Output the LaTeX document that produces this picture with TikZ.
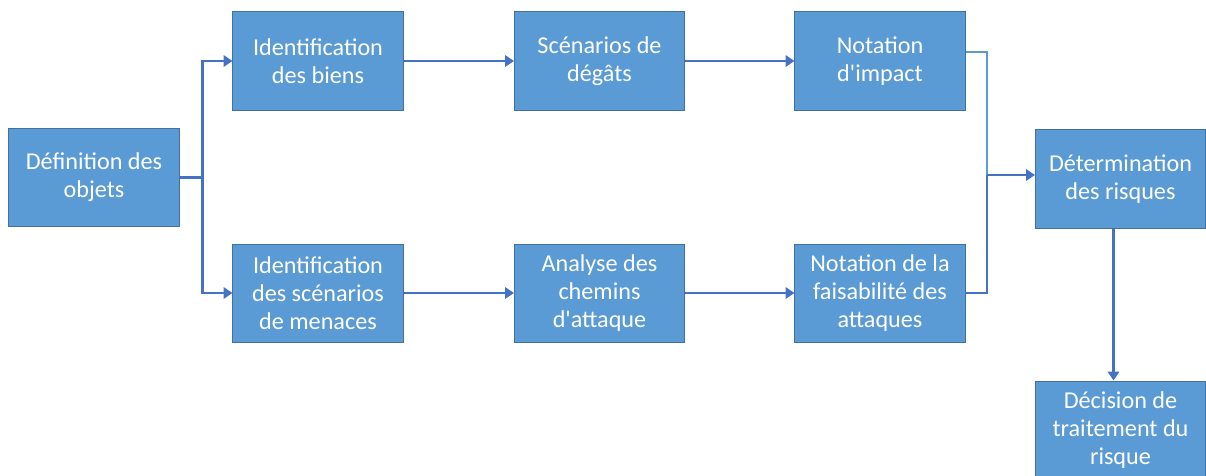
\documentclass[tikz,border=0pt]{standalone}
\usepackage{fontspec}
\setmainfont{Carlito}[Ligatures=TeXOff]
\usetikzlibrary{arrows.meta,calc}
\definecolor{boxfill}{HTML}{5B9BD5}
\definecolor{boxline}{HTML}{41719C}
\definecolor{arrowcol}{HTML}{4472C4}
\definecolor{lightline}{HTML}{5B9BD5}
\begin{document}
\begin{tikzpicture}[x=0.025cm,y=-0.025cm,
  box/.style={rectangle,draw=boxline,line width=0.7pt,fill=boxfill,text=white,
    minimum width=4.25cm,minimum height=2.45cm,inner sep=0pt,align=center,
    font=\fontsize{17.2}{20}\selectfont},
  conn/.style={draw=arrowcol,line width=2.1pt},
  arr/.style={conn,-{Triangle[length=0.22cm,width=0.28cm]}}]
\useasboundingbox (0,0) rectangle (1206,475);
\node[box] (def) at (94,177.5) {Définition des\\objets};
\node[box] (ib) at (318,61) {Identification\\des biens};
\node[box] (sd) at (599.5,61) {Scénarios de\\dégâts};
\node[box] (ni) at (880,61) {Notation\\d'impact};
\node[box] (is) at (318,293) {Identification\\des scénarios\\de menaces};
\node[box] (ac) at (599.5,293) {Analyse des\\chemins\\d'attaque};
\node[box] (nf) at (880,293) {Notation de la\\faisabilité des\\attaques};
\node[box] (dr) at (1120.5,179) {Détermination\\des risques};
\node[box] (dt) at (1120.5,430) {Décision de\\traitement du\\risque};
\coordinate (j) at (987,175);
\draw[arr] (def.east) -- ++(23,0) |- (ib.west);
\draw[arr] (def.east) -- ++(23,0) |- (is.west);
\draw[arr] (ib) -- (sd);
\draw[arr] (sd) -- (ni);
\draw[arr] (is) -- (ac);
\draw[arr] (ac) -- (nf);
\draw[draw=lightline,line width=2.1pt] ($(ni.east)+(0,-9)$) -| (j);
\draw[conn] (nf.east) -| (j);
\draw[arr] (j) -- ($(dr.west)+(0,-4)$);
\draw[arr] ($(dr.south)+(-7,0)$) -- ($(dt.north)+(-7,0)$);
\end{tikzpicture}
\end{document}
